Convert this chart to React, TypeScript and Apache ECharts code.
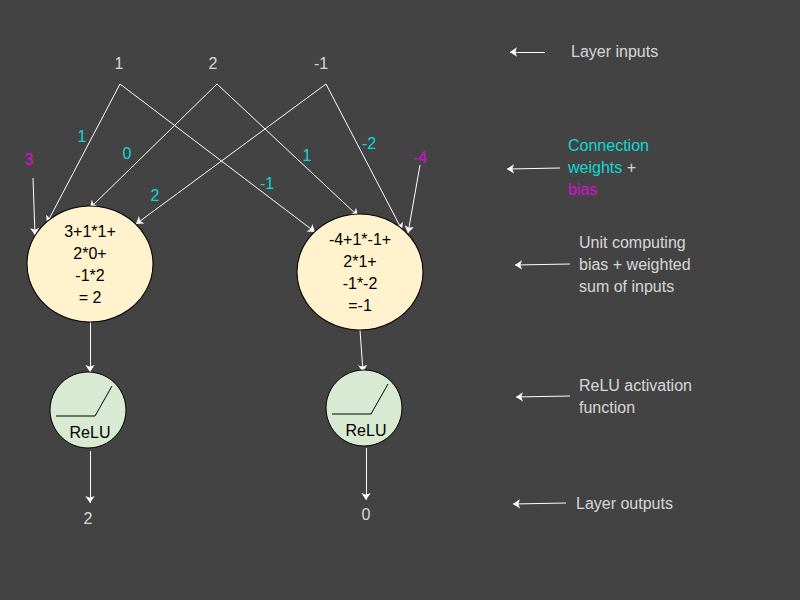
import React, { useEffect, useRef } from 'react';
import * as echarts from 'echarts';

// diagram laid out on a 800x600 value grid (y downwards)
const inputs = [
    { name: '1', x: 119, y: 63 },
    { name: '2', x: 213, y: 63 },
    { name: '-1', x: 321, y: 63 },
];
const weightLabels = [
    { name: '1', x: 82, y: 136 },
    { name: '0', x: 127, y: 153 },
    { name: '2', x: 155, y: 195 },
    { name: '-1', x: 267, y: 183 },
    { name: '1', x: 307, y: 155 },
    { name: '-2', x: 369, y: 143 },
];
const biasLabels = [
    { name: '3', x: 29, y: 159 },
    { name: '-4', x: 420, y: 157 },
];
const arrows: number[][][] = [
    [[120, 84], [47, 223]],
    [[217, 84], [90, 208]],
    [[326, 84], [136, 224]],
    [[120, 84], [315, 232]],
    [[217, 84], [358, 216]],
    [[326, 84], [402, 230]],
    [[33, 178], [35, 235]],
    [[420, 165], [408, 233]],
    [[90, 322], [90, 372]],
    [[360, 330], [363, 372]],
    [[90, 451], [90, 503]],
    [[366, 448], [366, 500]],
    [[545, 52], [510, 52]],
    [[560, 168], [507, 169]],
    [[570, 264], [515, 265]],
    [[570, 396], [516, 397]],
    [[566, 503], [513, 504]],
];
const units = [
    { x: 90, y: 264, text: '3+1*1+\n2*0+\n-1*2\n= 2' },
    { x: 360, y: 272, text: '-4+1*-1+\n2*1+\n-1*-2\n=-1' },
];
const relus = [
    { x: 88, y: 410 },
    { x: 364, y: 408 },
];
const reluShape = [[-32, 6], [7, 6], [24, -24]];
const outputs = [
    { name: '2', x: 88, y: 518 },
    { name: '0', x: 366, y: 514 },
];
const notes = [
    { x: 571, y: 51, text: 'Layer inputs' },
    { x: 568, y: 167, text: '{c|Connection}\n{c|weights} +\n{m|bias}' },
    { x: 579, y: 264, text: 'Unit computing\nbias + weighted\nsum of inputs' },
    { x: 579, y: 396, text: 'ReLU activation\nfunction' },
    { x: 576, y: 503, text: 'Layer outputs' },
];

const FONT = 'Liberation Sans';

const textSeries = (data: any[], color: string, align = 'center') => ({
    type: 'scatter',
    symbolSize: 0,
    silent: true,
    z: 10,
    data: data.map(d => ({ value: [d.x, d.y], name: d.name ?? d.text })),
    label: {
        show: true,
        position: 'inside',
        formatter: '{b}',
        color,
        fontSize: 16,
        fontFamily: FONT,
        align,
        lineHeight: 22,
        rich: {
            c: { color: '#00ffff', fontSize: 16, fontFamily: FONT, lineHeight: 22 },
            m: { color: '#ff00ff', fontSize: 16, fontFamily: FONT, lineHeight: 22 },
        },
    },
});

const App: React.FC = () => {
    const chartRef = useRef<HTMLDivElement>(null);

    useEffect(() => {
        const chartDom = chartRef.current!;
        const myChart = echarts.init(chartDom, undefined, { renderer: 'svg' });
        const option: any = {
            animation: false,
            backgroundColor: '#434343',
            grid: { left: 0, right: 0, top: 0, bottom: 0 },
            xAxis: { type: 'value', min: 0, max: 800, show: false },
            yAxis: { type: 'value', min: 0, max: 600, inverse: true, show: false },
            series: [
                {
                    type: 'lines',
                    coordinateSystem: 'cartesian2d',
                    silent: true,
                    symbol: ['none', 'arrow'],
                    symbolSize: 7,
                    lineStyle: { color: '#ffffff', width: 1, opacity: 1 },
                    data: arrows.map(a => ({ coords: a })),
                    z: 2,
                },
                {
                    type: 'scatter',
                    symbol: 'circle',
                    symbolSize: [126, 116],
                    silent: true,
                    itemStyle: { color: '#fff2cc', borderColor: '#000', borderWidth: 1, opacity: 1 },
                    data: units.map(u => ({ value: [u.x, u.y], name: u.text })),
                    label: {
                        show: true, position: 'inside', formatter: '{b}', color: '#000',
                        fontSize: 16, fontFamily: FONT, lineHeight: 22,
                    },
                    z: 3,
                },
                {
                    type: 'scatter',
                    symbol: 'circle',
                    symbolSize: 76,
                    silent: true,
                    itemStyle: { color: '#d9ead3', borderColor: '#000', borderWidth: 1, opacity: 1 },
                    data: relus.map(r => ({ value: [r.x, r.y], name: 'ReLU' })),
                    label: {
                        show: true, position: 'inside', offset: [2, 22], formatter: '{b}', color: '#000',
                        fontSize: 16, fontFamily: FONT,
                    },
                    z: 3,
                },
                ...relus.map(r => ({
                    type: 'line',
                    silent: true,
                    symbol: 'none',
                    lineStyle: { color: '#000', width: 1 },
                    data: reluShape.map(p => [r.x + p[0], r.y + p[1]]),
                    z: 4,
                })),
                textSeries(inputs, '#ffffff'),
                textSeries(weightLabels, '#00ffff'),
                textSeries(biasLabels, '#ff00ff'),
                textSeries(outputs, '#ffffff'),
                textSeries(notes, '#ffffff', 'left'),
            ],
        };
        myChart.setOption(option);
        return () => {
            myChart.dispose();
        };
    }, []);

    return <div ref={chartRef} style={{ position: 'fixed', left: 0, top: 0, width: 800, height: 600 }} />;
};

export default App;
